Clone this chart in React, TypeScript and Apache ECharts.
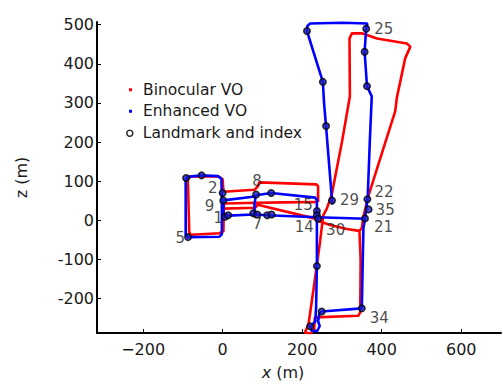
import React, { useEffect, useRef } from "react";
import * as echarts from "echarts";

// ---- Data (metres) ----
const redTrackA: number[][] = [
  [240, 47], [150, 46], [90, 45], [3, 43], [3, 30], [82, 32], [88, 40], [230, 5], [245, -3],
  [270, -12], [312, -22], [344, -27], [347, -100], [346, -235], [341, -244], [232, -248],
  [230, -280], [220, -290], [207, -287], [216, -265], [228, -180], [245, -54], [253, 13],
  [262, 30], [274, 64], [300, 200], [320, 317], [319, 465], [325, 478], [350, 478],
  [388, 465], [463, 452], [472, 444], [459, 414], [438, 313], [434, 279], [396, 157],
  [367, 64], [354, 9], [350, -20], [344, -27],
];
const redTrackB: number[][] = [
  [3, 43], [2, -28], [-8, -33], [-80, -37], [-84, -30], [-87, 85], [-88, 105], [-80, 112],
  [-10, 112], [0, 105], [2, 73], [80, 78], [88, 86], [92, 97], [235, 92], [240, 88], [240, 47],
];
const blueTrackA: number[][] = [
  [-2, 51], [-2, -35], [-8, -42], [-87, -43], [-93, -38], [-93, 105], [-88, 111], [-53, 115],
  [-12, 113], [-3, 106], [-2, 51],
];
const blueTrackB: number[][] = [
  [-2, 51], [1.5, 51], [81, 61], [84, 64], [122, 70], [233, 58], [237, 52], [237, 24],
  [237, 13], [237, -117], [235, -223], [233, -258], [226, -266], [220, -271], [224, -282],
  [238, -283], [244, -270], [240, -258], [243, -240], [249, -233], [350, -225], [352, -120],
  [354, -20], [358, 4], [364, 54], [365, 64], [370, 200], [375, 317], [363, 343], [357, 431],
  [361, 491], [364, 503], [300, 505], [220, 503], [213, 497], [212, 484], [252, 354],
  [255, 300], [260, 241], [275, 51], [276, 40],
];
const blueTrackC: number[][] = [[83, 62], [80, 40], [80, 16]];
const blueTrackD: number[][] = [
  [2, 51], [2, 9], [6, 9], [14, 12], [77, 15], [112, 13], [237, 8], [300, 6], [358, 4],
];

const landmarkX = [361, 357, 363, 212, 252, 260, 275, 364, 367, 358, 237, 237, 240, 237, 249, 350, 220, 84, 122, 77, 87, 112, 123, 0, 1.5, 6, 14, -87, -92, -53];
const landmarkY = [490, 431, 343, 484, 354, 241, 51, 54, 28, 5, 24, 13, 4, -117, -233, -225, -271, 66, 70, 18, 15, 13, 15, 70, 51, 9, 13, -43, 108, 115];
const landmarkIndex = ["25", "", "", "", "", "", "29", "22", "35", "21", "15", "14", "30", "", "", "34", "", "8", "", "7", "", "", "", "2", "9", "1", "", "5", "", ""];

const xTicks = [-200, 0, 200, 400, 600];
const yTicks = [-200, -100, 0, 100, 200, 300, 400, 500];

// label placement (style only)
const labelPlacement: Record<string, { position: string; offset: number[] }> = {
  "25": { position: "right", offset: [0, 0] },
  "29": { position: "right", offset: [0, 0] },
  "22": { position: "right", offset: [-1, -7] },
  "35": { position: "right", offset: [-1, 1] },
  "21": { position: "right", offset: [1, 8.5] },
  "15": { position: "left", offset: [4, -6] },
  "14": { position: "left", offset: [5, 12] },
  "30": { position: "right", offset: [0, 11] },
  "34": { position: "right", offset: [0, 10] },
  "8": { position: "top", offset: [1, 0] },
  "7": { position: "bottom", offset: [4, -3] },
  "2": { position: "left", offset: [3, -4.5] },
  "9": { position: "left", offset: [-1, 6] },
  "1": { position: "left", offset: [6, 1.5] },
  "5": { position: "left", offset: [5, 1] },
};

const FONT = "DejaVu Sans";
const TEXT = "#1a1a1a";
const RED = "#ff0000";
const BLUE = "#0000ff";

export default function App() {
  const ref = useRef<HTMLDivElement>(null);
  useEffect(() => {
    document.body.style.margin = "0";
    if (!ref.current) return;
    const chart = echarts.init(ref.current, undefined, { renderer: "svg" });

    const lineSeries = (name: string, color: string, data: number[][]) => ({
      type: "line",
      name,
      data,
      symbol: "none",
      showSymbol: false,
      lineStyle: { color, width: 2.6 },
      itemStyle: { color },
      z: color === BLUE ? 3 : 2,
      silent: true,
    });

    const landmarkData = landmarkX.map((x, i) => {
      const lbl = landmarkIndex[i];
      const p = labelPlacement[lbl];
      return {
        value: [x, landmarkY[i]],
        name: lbl,
        label: lbl
          ? { show: true, position: p ? p.position : "right", offset: p ? p.offset : [0, 0], distance: 4 }
          : { show: false },
      };
    });

    chart.setOption({
      animation: false,
      grid: { left: 97, right: 2, top: 22, bottom: 49 },
      legend: [
        {
          data: [
            { name: "Binocular VO", icon: "rect", itemStyle: { color: RED } },
            { name: "Enhanced VO", icon: "rect", itemStyle: { color: BLUE } },
          ],
          orient: "vertical",
          left: 124,
          top: 75,
          itemWidth: 3,
          itemHeight: 3,
          itemGap: 2,
          selectedMode: false,
          textStyle: { fontFamily: FONT, fontSize: 15.5, color: TEXT, lineHeight: 19.5, padding: [0, 0, 0, 6] },
        },
        {
          data: [
            {
              name: "Landmark and index",
              icon: "circle",
              itemStyle: { color: "#fff", borderColor: "#000", borderWidth: 1.6 },
            },
          ],
          orient: "vertical",
          left: 121,
          top: 118.5,
          itemWidth: 6,
          itemHeight: 6,
          selectedMode: false,
          textStyle: { fontFamily: FONT, fontSize: 15.5, color: TEXT, lineHeight: 19.5, padding: [0, 0, 0, 5] },
        },
      ],
      xAxis: {
        type: "value",
        min: -316,
        max: 700,
        name: "{i|x} (m)",
        nameLocation: "middle",
        nameGap: 31,
        nameTextStyle: {
          fontFamily: FONT,
          fontSize: 16,
          color: TEXT,
          padding: [0, 32, 0, 0],
          rich: { i: { fontFamily: FONT, fontSize: 16, fontStyle: "italic", color: TEXT } },
        },
        axisLine: { show: true, onZero: false, lineStyle: { color: "#000", width: 2 } },
        axisTick: { show: true, inside: true, length: 4, customValues: xTicks, lineStyle: { color: "#000", width: 1 } },
        axisLabel: {
          customValues: xTicks,
          fontFamily: FONT,
          fontSize: 16,
          color: TEXT,
          margin: 8,
          formatter: (v: number) => (v < 0 ? "\u2212" + Math.abs(v) : String(v)),
        },
        splitLine: { show: false },
      },
      yAxis: {
        type: "value",
        min: -288,
        max: 507,
        name: "z (m)",
        nameLocation: "middle",
        nameGap: 68,
        nameRotate: 90,
        nameTextStyle: { fontFamily: FONT, fontSize: 16, color: TEXT },
        axisLine: { show: true, onZero: false, lineStyle: { color: "#000", width: 2 } },
        axisTick: { show: true, inside: true, length: 4, customValues: yTicks, lineStyle: { color: "#000", width: 1 } },
        axisLabel: {
          customValues: yTicks,
          fontFamily: FONT,
          fontSize: 16,
          color: TEXT,
          margin: 3,
        },
        splitLine: { show: false },
      },
      series: [
        lineSeries("Binocular VO", RED, redTrackA),
        lineSeries("Binocular VO", RED, redTrackB),
        lineSeries("Enhanced VO", BLUE, blueTrackA),
        lineSeries("Enhanced VO", BLUE, blueTrackB),
        lineSeries("Enhanced VO", BLUE, blueTrackC),
        lineSeries("Enhanced VO", BLUE, blueTrackD),
        {
          type: "scatter",
          name: "Landmark and index",
          data: landmarkData,
          symbol: "circle",
          symbolSize: 6.5,
          itemStyle: { color: "#1a1acc", borderColor: "#000", borderWidth: 1.5 },
          label: {
            formatter: (p: any) => p.name,
            fontFamily: FONT,
            fontSize: 15,
            lineHeight: 12,
            color: TEXT,
          },
          z: 5,
          silent: true,
        },
      ],
    });
    return () => chart.dispose();
  }, []);
  return <div ref={ref} style={{ width: 503, height: 385 }} />;
}
